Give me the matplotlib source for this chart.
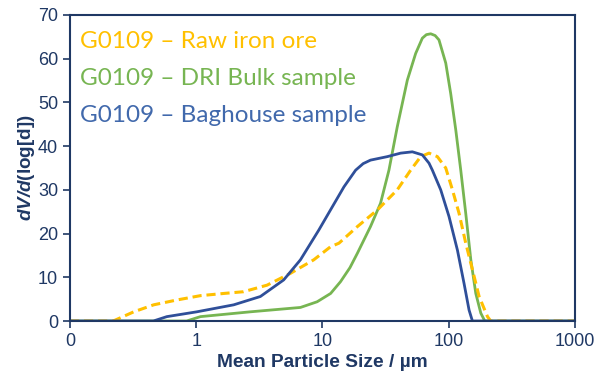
import numpy as np
import matplotlib
matplotlib.use("Agg")
import matplotlib.pyplot as plt
from matplotlib.ticker import FixedLocator, FixedFormatter, NullLocator

# particle size (um) / dV/dlog(d)
raw_size = [0.1, 0.22, 0.32, 0.46, 0.70, 1.08, 1.65, 2.37, 3.64, 5.57, 8.53, 11.6, 13.5,
            18.9, 27.2, 39.1, 49.9, 60.0, 69.8, 81.3, 94.7, 107, 120.8, 136.4, 154.2,
            174, 202.8, 215, 1000]
raw_val = [0, 0, 2.1, 3.7, 4.8, 5.8, 6.3, 6.7, 8.2, 10.9, 14.0, 17.0, 17.8,
           21.6, 25.4, 30.0, 34.5, 37.6, 38.4, 37.6, 35.0, 30.0, 24.6, 17.8, 11.7,
           5.6, 1.0, 0, 0]

dri_size = [0.1, 0.84, 1.08, 2.68, 6.69, 9.07, 11.6, 13.9, 16.5, 18.9, 24.0, 28.8, 33.6,
            39.1, 47.0, 54.7, 61.8, 66.5, 72.0, 78.0, 83.7, 94.7, 103.7, 113.7, 124.5,
            136.4, 149.6, 163.8, 179.5, 193, 1000]
dri_val = [0, 0, 1.0, 2.1, 3.1, 4.4, 6.3, 9.0, 12.2, 15.5, 21.6, 26.9, 34.5,
           44.4, 55.1, 61.2, 64.7, 65.5, 65.7, 65.3, 64.3, 59.0, 52.0, 43.7, 34.5,
           24.6, 14.0, 6.3, 1.8, 0, 0]

bag_size = [0.1, 0.458, 0.585, 1.01, 1.98, 3.22, 4.93, 6.69, 9.35, 11.57, 14.8, 18.3,
            21.0, 24.0, 32.6, 41.6, 51.5, 61.8, 69.8, 74.2, 86.4, 100.5, 117.2, 132.2,
            144.9, 154, 1000]
bag_val = [0, 0, 1.0, 2.1, 3.7, 5.6, 9.4, 14.0, 20.8, 25.4, 30.7, 34.5,
           36.0, 36.8, 37.6, 38.4, 38.7, 38.0, 36.1, 34.5, 30.0, 23.9, 16.2, 8.6,
           2.5, 0, 0]

labels = ["G0109 \u2013 Raw iron ore", "G0109 \u2013 DRI Bulk sample", "G0109 \u2013 Baghouse sample"]
x_ticks = [0.1, 1, 10, 100, 1000]
x_tick_labels = ["0", "1", "10", "100", "1000"]
y_ticks = [0, 10, 20, 30, 40, 50, 60, 70]

navy = "#1F3864"
c_raw = "#FFC000"
c_dri = "#77B552"
c_bag = "#2F4F99"
c_bag_txt = "#4169AC"

plt.rcParams["mathtext.fontset"] = "custom"
plt.rcParams["mathtext.bfit"] = "Liberation Sans:bold:italic"
plt.rcParams["mathtext.bf"] = "Liberation Sans:bold"
plt.rcParams["mathtext.rm"] = "Liberation Sans"

fig = plt.figure(figsize=(5.94, 3.73), dpi=100)
ax = fig.add_axes([0.1178, 0.1394, 0.8502, 0.8204])

ax.plot(dri_size, dri_val, color=c_dri, lw=2)
ax.plot(raw_size, raw_val, color=c_raw, lw=2.2, dashes=(3, 1.6))
ax.plot(bag_size, bag_val, color=c_bag, lw=2)

ax.set_xscale("log")
ax.set_xlim(0.1, 1000)
ax.set_ylim(0, 70)
ax.xaxis.set_major_locator(FixedLocator(x_ticks))
ax.xaxis.set_major_formatter(FixedFormatter(x_tick_labels))
ax.xaxis.set_minor_locator(NullLocator())
ax.set_yticks(y_ticks)

for s in ax.spines.values():
    s.set_color(navy)
    s.set_linewidth(1.5)
ax.tick_params(colors=navy, width=1.2, length=5, labelsize=13, direction="out")
for lab in ax.get_xticklabels() + ax.get_yticklabels():
    lab.set_fontfamily("Liberation Sans")

ax.set_xlabel("Mean Particle Size / \u00b5m", fontsize=13.8, fontweight="bold",
              color=navy, family="Liberation Sans", labelpad=3)
ax.set_ylabel(r"$\mathbfit{dV/d}$(log[d])", fontsize=13.6, fontweight="bold",
              color=navy, family="Liberation Sans", labelpad=1)

for i, (txt, col) in enumerate(zip(labels, [c_raw, c_dri, c_bag_txt])):
    ax.text(0.02, 0.915 - i * 0.122, txt, transform=ax.transAxes, color=col,
            fontsize=17.5, family="Lato", va="center", ha="left")

fig.savefig("out.png", dpi=100)
